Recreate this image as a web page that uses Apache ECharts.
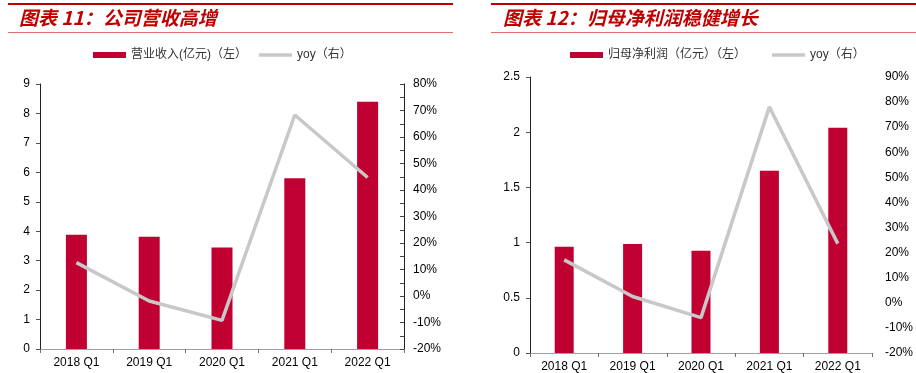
<!DOCTYPE html>
<html>
<head>
<meta charset="utf-8">
<script src="https://cdn.jsdelivr.net/npm/echarts@6/dist/echarts.min.js"></script>
<style>
html,body{margin:0;padding:0;background:#fff;}
#c{width:916px;height:373px;}
</style>
</head>
<body>
<div id="c"></div>
<script>
// ---- data ----
var categories = ['2018 Q1', '2019 Q1', '2020 Q1', '2021 Q1', '2022 Q1'];
var revenue = [3.88, 3.81, 3.45, 5.80, 8.40];          // 营业收入(亿元)
var revenueYoy = [12.6, -1.9, -9.2, 68.3, 44.7];        // yoy %
var netProfit = [0.963, 0.987, 0.927, 1.65, 2.04];      // 归母净利润(亿元)
var netProfitYoy = [17.1, 2.5, -5.9, 78.1, 23.6];       // yoy %
var title1 = '图表 11：公司营收高增';
var title2 = '图表 12：归母净利润稳健增长';
var barName1 = '营业收入(亿元)（左）';
var barName2 = '归母净利润（亿元）（左）';
var lineName = 'yoy（右）';

var RED = '#c00030';
var GRAY = '#c8c8c8';
var FONT = '"Liberation Sans", Arial, "Noto Sans CJK SC", sans-serif';
var lineIcon = 'path://M0,0 L35,0 L35,3.5 L0,3.5 Z';

function xAx(gi) {
  return {
    type: 'category', gridIndex: gi, data: categories,
    axisLine: {lineStyle: {color: '#a0a0a0', width: 1}},
    axisTick: {show: true, length: 4, lineStyle: {color: '#707070'}},
    axisLabel: {fontFamily: FONT, fontSize: 12, color: '#000', margin: 8}
  };
}

var chart = echarts.init(document.getElementById('c'), null, {renderer: 'canvas'});
chart.setOption({
  animation: false,
  backgroundColor: '#fff',
  grid: [
    {left: 40, top: 84, width: 364, height: 265},
    {left: 530, top: 77, width: 343, height: 277}
  ],
  legend: [
    {
      left: 93, top: 49, padding: 0, itemWidth: 33, itemHeight: 6, itemGap: 12,
      textStyle: {fontFamily: FONT, fontSize: 12, color: '#333'},
      data: [{name: barName1, icon: 'rect'}, {name: lineName, icon: lineIcon, itemStyle: {color: GRAY}}]
    },
    {
      left: 570, top: 49, padding: 0, itemWidth: 33, itemHeight: 6, itemGap: 26,
      textStyle: {fontFamily: FONT, fontSize: 12, color: '#333'},
      data: [{name: barName2, icon: 'rect'}, {name: lineName, icon: lineIcon, itemStyle: {color: GRAY}}]
    }
  ],
  xAxis: [xAx(0), xAx(1)],
  yAxis: [
    {
      type: 'value', gridIndex: 0, position: 'left', min: 0, max: 9, interval: 1,
      axisLine: {show: true, lineStyle: {color: '#222'}},
      axisTick: {show: true, length: 4, lineStyle: {color: '#555'}},
      splitLine: {show: false},
      axisLabel: {fontFamily: FONT, fontSize: 12, color: '#000', margin: 10}
    },
    {
      type: 'value', gridIndex: 0, position: 'right', min: -20, max: 80, interval: 10,
      axisLine: {show: true, lineStyle: {color: '#222'}},
      axisTick: {show: true, inside: true, length: 4, lineStyle: {color: '#444'}},
      minorTick: {show: true, splitNumber: 2, length: 4, lineStyle: {color: '#444'}},
      splitLine: {show: false},
      axisLabel: {fontFamily: FONT, fontSize: 12, color: '#000', margin: 9, formatter: '{value}%'}
    },
    {
      type: 'value', gridIndex: 1, position: 'left', min: 0, max: 2.5, interval: 0.5,
      axisLine: {show: true, lineStyle: {color: '#222'}},
      axisTick: {show: true, length: 4, lineStyle: {color: '#555'}},
      splitLine: {show: false},
      axisLabel: {fontFamily: FONT, fontSize: 12, color: '#000', margin: 10}
    },
    {
      type: 'value', gridIndex: 1, position: 'right', min: -20, max: 90, interval: 10,
      axisLine: {show: false},
      axisTick: {show: false},
      splitLine: {show: false},
      axisLabel: {fontFamily: FONT, fontSize: 12, color: '#000', margin: 13, formatter: '{value}%'}
    }
  ],
  series: [
    {name: barName1, type: 'bar', xAxisIndex: 0, yAxisIndex: 0, data: revenue, barWidth: 21, itemStyle: {color: RED}},
    {name: lineName, type: 'line', xAxisIndex: 0, yAxisIndex: 1, data: revenueYoy, symbol: 'none',
     lineStyle: {color: GRAY, width: 3.5}, itemStyle: {color: GRAY}},
    {name: barName2, type: 'bar', xAxisIndex: 1, yAxisIndex: 2, data: netProfit, barWidth: 19, itemStyle: {color: RED}},
    {name: lineName, type: 'line', xAxisIndex: 1, yAxisIndex: 3, data: netProfitYoy, symbol: 'none',
     lineStyle: {color: GRAY, width: 3.5}, itemStyle: {color: GRAY}}
  ],
  graphic: [
    {type: 'rect', shape: {x: 8, y: 3, width: 445, height: 2}, style: {fill: '#c00000'}, silent: true},
    {type: 'rect', shape: {x: 491, y: 3, width: 425, height: 2}, style: {fill: '#c00000'}, silent: true},
    {type: 'rect', shape: {x: 8, y: 32, width: 445, height: 1}, style: {fill: '#e07070'}, silent: true},
    {type: 'rect', shape: {x: 491, y: 32, width: 425, height: 1}, style: {fill: '#e07070'}, silent: true},
    {type: 'text', left: 19, top: 8, style: {text: title1, fill: '#c00000',
      font: 'italic bold 19px "Noto Sans CJK SC", sans-serif'}},
    {type: 'text', left: 503, top: 8, style: {text: title2, fill: '#c00000',
      font: 'italic bold 19px "Noto Sans CJK SC", sans-serif'}}
  ]
});
</script>
</body>
</html>
